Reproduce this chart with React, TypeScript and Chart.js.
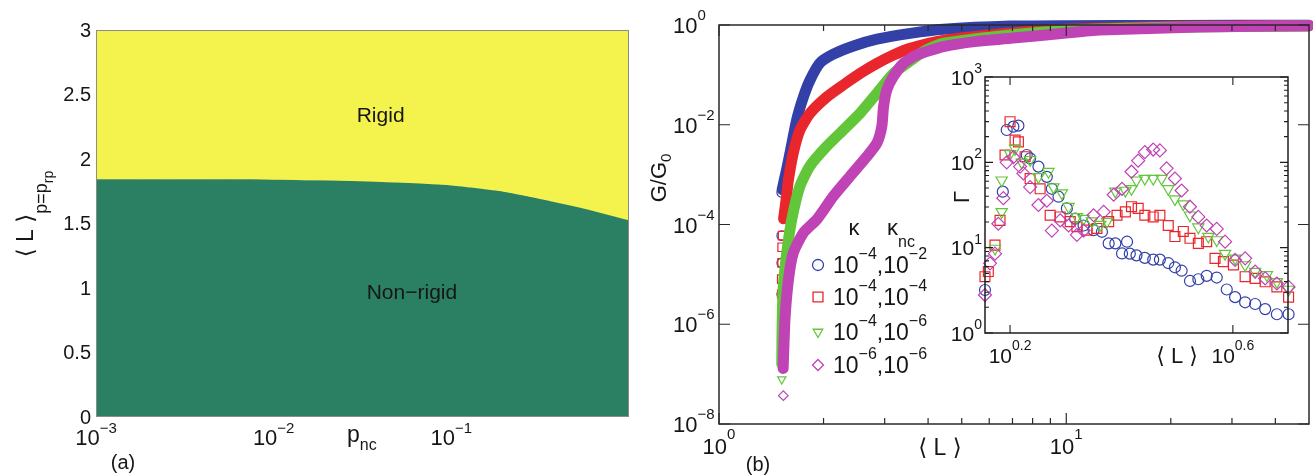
import React, { useEffect, useRef } from "react";
import { Chart, registerables } from "chart.js";

Chart.register(...registerables);

const W = 1313;
const H = 476;
const FONT = '"Liberation Sans", Arial, Helvetica, "DejaVu Sans", sans-serif';

const YELLOW = "#f4f24c";
const DARKGREEN = "#2b8063";
const BLUE = "#3340a8";
const RED = "#e8262b";
const GREEN = "#62c63a";
const MAGENTA = "#c043b6";

// ---------------- Panel (a) data ----------------
const pncValues = [0.001, 0.00316, 0.01, 0.0316, 0.0631, 0.1, 0.178, 0.316, 0.562, 1];
const boundaryL = [1.843, 1.843, 1.84, 1.828, 1.812, 1.795, 1.755, 1.69, 1.615, 1.525];
const aYTicks = [0, 0.5, 1, 1.5, 2, 2.5, 3];
const aYTickLabels = ["0", "0.5", "1", "1.5", "2", "2.5", "3"];
const aXTicks = [0.001, 0.01, 0.1];
const aXTickExp = ["\u22123", "\u22122", "\u22121"];

// ---------------- Panel (b) main data (<L>, G/G0) ----------------
const blueTailL = [1.516, 1.516, 1.516, 1.516];
const blueTailG = [4.0e-6, 1.7e-5, 6.0e-5, 4.4e-4];
const blueBandL = [1.52, 1.567, 1.602, 1.674, 1.75, 1.829, 1.954, 2.135, 2.44, 2.85, 3.55, 4.43, 6.9, 10, 20, 50];
const blueBandG = [5.0e-4, 1.3e-3, 2.75e-3, 1.26e-2, 3.6e-2, 7.9e-2, 0.174, 0.26, 0.38, 0.52, 0.68, 0.82, 0.95, 0.97, 0.98, 0.99];

const redTailL = [1.516, 1.516, 1.52, 1.52, 1.525];
const redTailG = [4.0e-6, 8.0e-6, 1.7e-5, 3.5e-5, 6.0e-5];
const redBandL = [1.535, 1.567, 1.585, 1.637, 1.711, 1.829, 2.043, 2.282, 2.549, 2.85, 3.18, 3.55, 4.43, 6.9, 10, 20, 50];
const redBandG = [1.3e-4, 4.0e-4, 8.0e-4, 2.75e-3, 7.9e-3, 1.7e-2, 3.6e-2, 6.3e-2, 0.107, 0.17, 0.25, 0.34, 0.49, 0.69, 0.82, 0.93, 0.97];

const greenTailL = [1.516];
const greenTailG = [7.9e-8];
const greenBandL = [1.516, 1.52, 1.53, 1.567, 1.62, 1.711, 1.829, 2.043, 2.282, 2.549, 2.85, 3.18, 3.55, 3.968, 4.43, 6.9, 10, 20, 50];
const greenBandG = [1.6e-7, 1.0e-6, 5.0e-6, 2.7e-5, 1.26e-4, 5.9e-4, 1.5e-3, 3.7e-3, 7.9e-3, 1.7e-2, 4.3e-2, 0.107, 0.19, 0.32, 0.43, 0.63, 0.78, 0.9, 0.96];

const magentaTailL = [1.532];
const magentaTailG = [3.7e-8];
const magentaBandL = [1.53, 1.549, 1.585, 1.637, 1.75, 1.912, 2.135, 2.385, 2.665, 2.85, 2.944, 2.977, 3.043, 3.18, 3.398, 3.712, 4.43, 5.53, 6.9, 10, 12.5, 24, 50];
const magentaBandG = [1.3e-7, 1.26e-6, 7.9e-6, 2.7e-5, 6.8e-5, 1.26e-4, 3.7e-4, 9.3e-4, 2.3e-3, 4.3e-3, 9.3e-3, 2.3e-2, 5.0e-2, 9.3e-2, 0.17, 0.25, 0.37, 0.47, 0.54, 0.69, 0.79, 0.91, 0.97];

const mainXMajor = [1, 10];
const mainXMajorExp = ["0", "1"];
const mainXMinor = [2, 3, 4, 5, 6, 7, 8, 9, 20, 30, 40];
const mainYTicks = [1, 1e-2, 1e-4, 1e-6, 1e-8];
const mainYTickExp = ["0", "\u22122", "\u22124", "\u22126", "\u22128"];

const legendLabels = [
  ["\u22124", "\u22122"],
  ["\u22124", "\u22124"],
  ["\u22124", "\u22126"],
  ["\u22126", "\u22126"],
];

// ---------------- Inset data: log10(<L>) and log10(Gamma) ----------------
const insetBlueLogL = [0.155, 0.187, 0.194, 0.206, 0.215, 0.23, 0.236, 0.251, 0.266, 0.275, 0.287, 0.302, 0.317, 0.332, 0.35, 0.365, 0.377, 0.389, 0.401, 0.41, 0.415, 0.427, 0.442, 0.457, 0.469, 0.484, 0.496, 0.508, 0.523, 0.538, 0.553, 0.571, 0.589, 0.604, 0.622, 0.64, 0.658, 0.679, 0.7];
const insetBlueLogG = [0.504, 1.656, 2.379, 2.418, 2.43, 2.086, 2.047, 1.95, 1.83, 1.69, 1.597, 1.46, 1.34, 1.26, 1.205, 1.186, 1.05, 1.05, 0.932, 1.07, 0.93, 0.91, 0.88, 0.86, 0.86, 0.82, 0.77, 0.73, 0.61, 0.63, 0.67, 0.65, 0.51, 0.42, 0.36, 0.34, 0.28, 0.22, 0.22];

const insetRedLogL = [0.155, 0.161, 0.173, 0.182, 0.191, 0.2, 0.209, 0.215, 0.227, 0.236, 0.254, 0.272, 0.29, 0.308, 0.32, 0.338, 0.356, 0.377, 0.392, 0.407, 0.418, 0.43, 0.442, 0.457, 0.469, 0.484, 0.496, 0.511, 0.523, 0.538, 0.553, 0.568, 0.583, 0.601, 0.622, 0.64, 0.658, 0.679, 0.7];
const insetRedLogG = [0.66, 0.72, 1.03, 1.32, 2.086, 2.476, 2.26, 2.24, 2.066, 1.81, 1.69, 1.38, 1.36, 1.305, 1.245, 1.205, 1.225, 1.305, 1.38, 1.42, 1.48, 1.46, 1.38, 1.36, 1.38, 1.26, 1.13, 1.19, 1.11, 1.05, 1.07, 0.875, 0.836, 0.797, 0.66, 0.64, 0.6, 0.54, 0.42];

const insetGreenLogL = [0.173, 0.185, 0.185, 0.2, 0.209, 0.221, 0.236, 0.251, 0.269, 0.278, 0.293, 0.305, 0.32, 0.332, 0.347, 0.362, 0.374, 0.389, 0.407, 0.418, 0.427, 0.442, 0.457, 0.472, 0.484, 0.496, 0.511, 0.523, 0.538, 0.556, 0.571, 0.586, 0.604, 0.622, 0.64, 0.661, 0.679, 0.7];
const insetGreenLogG = [0.99, 1.42, 1.79, 2.1, 2.16, 2.0, 2.03, 1.83, 1.89, 1.71, 1.64, 1.48, 1.36, 1.34, 1.31, 1.27, 1.305, 1.66, 1.67, 1.69, 1.79, 1.81, 1.81, 1.81, 1.69, 1.57, 1.51, 1.38, 1.24, 1.13, 1.09, 0.93, 0.875, 0.797, 0.72, 0.68, 0.6, 0.51];

const insetMagentaLogL = [0.155, 0.164, 0.173, 0.179, 0.188, 0.194, 0.206, 0.218, 0.224, 0.236, 0.251, 0.266, 0.275, 0.29, 0.305, 0.32, 0.332, 0.35, 0.368, 0.386, 0.401, 0.418, 0.43, 0.442, 0.457, 0.469, 0.481, 0.496, 0.508, 0.523, 0.538, 0.553, 0.571, 0.586, 0.604, 0.622, 0.64, 0.658, 0.679, 0.7];
const insetMagentaLogG = [0.445, 0.816, 0.93, 1.28, 1.58, 2.0, 2.06, 1.95, 1.87, 1.71, 1.5, 1.55, 1.2, 1.32, 1.26, 1.15, 1.2, 1.38, 1.42, 1.62, 1.69, 1.89, 2.02, 2.12, 2.15, 2.14, 1.93, 1.81, 1.67, 1.48, 1.36, 1.26, 1.22, 1.07, 0.856, 0.875, 0.72, 0.64, 0.58, 0.54];

const insetXTicks = [1.5849, 3.9811];
const insetXTickExp = ["0.2", "0.6"];
const insetYTicks = [1, 10, 100, 1000];
const insetYTickExp = ["0", "1", "2", "3"];

// ---------------- helpers ----------------
type Part = { t: string; size: number; dy?: number };

function drawRich(ctx: CanvasRenderingContext2D, parts: Part[], x: number, y: number, align: "left" | "center" | "right" = "left") {
  const widths = parts.map((p) => {
    ctx.font = `${p.size}px ${FONT}`;
    return ctx.measureText(p.t).width;
  });
  const total = widths.reduce((s, w) => s + w, 0);
  let cx = align === "center" ? x - total / 2 : align === "right" ? x - total : x;
  ctx.textAlign = "left";
  ctx.textBaseline = "middle";
  parts.forEach((p, i) => {
    ctx.font = `${p.size}px ${FONT}`;
    ctx.fillText(p.t, cx, y + (p.dy ?? 0));
    cx += widths[i];
  });
  return total;
}

function drawRotated(ctx: CanvasRenderingContext2D, parts: Part[], x: number, y: number) {
  ctx.save();
  ctx.translate(x, y);
  ctx.rotate(-Math.PI / 2);
  drawRich(ctx, parts, 0, 0, "center");
  ctx.restore();
}

function marker(ctx: CanvasRenderingContext2D, kind: string, x: number, y: number, r: number, color: string) {
  ctx.save();
  ctx.strokeStyle = color;
  ctx.lineWidth = 1.3;
  ctx.beginPath();
  if (kind === "circle") {
    ctx.arc(x, y, r, 0, Math.PI * 2);
  } else if (kind === "rect") {
    const s = r * Math.SQRT1_2;
    ctx.rect(x - s, y - s, 2 * s, 2 * s);
  } else if (kind === "tri") {
    ctx.moveTo(x, y + r);
    ctx.lineTo(x - r * 0.866, y - r * 0.5);
    ctx.lineTo(x + r * 0.866, y - r * 0.5);
    ctx.closePath();
  } else {
    ctx.moveTo(x, y - r);
    ctx.lineTo(x + r, y);
    ctx.lineTo(x, y + r);
    ctx.lineTo(x - r, y);
    ctx.closePath();
  }
  ctx.stroke();
  ctx.restore();
}

function pairs(xs: number[], ys: number[]) {
  return xs.map((x, i) => ({ x, y: ys[i] }));
}
function logPairs(xs: number[], ys: number[]) {
  return xs.map((x, i) => ({ x: Math.pow(10, x), y: Math.pow(10, ys[i]) }));
}

function baseOptions(padding: any, x: any, y: any, plugins: any[]) {
  return {
    options: {
      responsive: false,
      maintainAspectRatio: false,
      animation: false,
      events: [],
      layout: { padding, autoPadding: false },
      plugins: { legend: { display: false }, tooltip: { enabled: false } },
      scales: {
        x: { ...x, display: false },
        y: { ...y, display: false },
      },
    },
    plugins,
  };
}

// ---------------- Panel (a) ----------------
const panelADecor = {
  id: "panelADecor",
  afterDraw(chart: any) {
    const { ctx, chartArea: a, scales } = chart;
    const xs = scales.x;
    const ys = scales.y;
    ctx.save();
    ctx.strokeStyle = "#8c8c8c";
    ctx.lineWidth = 1;
    ctx.strokeRect(a.left + 0.5, a.top + 0.5, a.right - a.left - 1, a.bottom - a.top - 1);
    ctx.fillStyle = "#161616";
    aYTicks.forEach((v, i) => {
      drawRich(ctx, [{ t: aYTickLabels[i], size: 20 }], a.left - 5, ys.getPixelForValue(v) + 1, "right");
    });
    aXTicks.forEach((v, i) => {
      drawRich(ctx, [{ t: "10", size: 22 }, { t: aXTickExp[i], size: 15, dy: -10 }], xs.getPixelForValue(v), a.bottom + 22, "center");
    });
    drawRich(ctx, [{ t: "p", size: 23 }, { t: "nc", size: 16, dy: 10 }], 347, 436, "left");
    drawRich(ctx, [{ t: "(a)", size: 20 }], 123, 463, "center");
    drawRich(ctx, [{ t: "Rigid", size: 21 }], xs.getPixelForValue(0.04), ys.getPixelForValue(2.33), "center");
    drawRich(ctx, [{ t: "Non\u2212rigid", size: 21 }], xs.getPixelForValue(0.06), ys.getPixelForValue(0.96), "center");
    drawRotated(
      ctx,
      [
        { t: "\u27e8 L \u27e9", size: 23 },
        { t: "p=p", size: 18, dy: 15 },
        { t: "rp", size: 14, dy: 22 },
      ],
      27,
      214
    );
    ctx.restore();
  },
};

function panelAConfig() {
  const boundary = pairs(pncValues, boundaryL);
  return {
    type: "line",
    data: {
      datasets: [
        { data: boundary, fill: "end", backgroundColor: YELLOW, borderWidth: 0, pointRadius: 0, tension: 0.3 },
        { data: boundary, fill: "start", backgroundColor: DARKGREEN, borderColor: DARKGREEN, borderWidth: 1, pointRadius: 0, tension: 0.3 },
      ],
    },
    ...baseOptions(
      { left: 96, top: 30, right: W - 629, bottom: H - 417 },
      { type: "logarithmic", min: 0.001, max: 1 },
      { type: "linear", min: 0, max: 3 },
      [panelADecor]
    ),
  };
}

// ---------------- Panel (b) main ----------------
const mainDecor = {
  id: "mainDecor",
  afterDraw(chart: any) {
    const { ctx, chartArea: a, scales } = chart;
    const xs = scales.x;
    const ys = scales.y;
    ctx.save();
    ctx.strokeStyle = "#2a2a2a";
    ctx.lineWidth = 1.5;
    ctx.strokeRect(a.left, a.top, a.right - a.left, a.bottom - a.top);
    ctx.lineWidth = 1.2;
    ctx.beginPath();
    mainXMajor.forEach((v) => {
      const x = xs.getPixelForValue(v);
      ctx.moveTo(x, a.bottom); ctx.lineTo(x, a.bottom - 11);
      ctx.moveTo(x, a.top); ctx.lineTo(x, a.top + 11);
    });
    mainXMinor.forEach((v) => {
      const x = xs.getPixelForValue(v);
      ctx.moveTo(x, a.bottom); ctx.lineTo(x, a.bottom - 6);
      ctx.moveTo(x, a.top); ctx.lineTo(x, a.top + 6);
    });
    mainYTicks.forEach((v) => {
      const y = ys.getPixelForValue(v);
      ctx.moveTo(a.left, y); ctx.lineTo(a.left + 11, y);
      ctx.moveTo(a.right, y); ctx.lineTo(a.right - 11, y);
    });
    ctx.stroke();

    ctx.fillStyle = "#161616";
    mainYTicks.forEach((v, i) => {
      drawRich(ctx, [{ t: "10", size: 22, dy: 2 }, { t: mainYTickExp[i], size: 15, dy: -9 }], 673, ys.getPixelForValue(v), "left");
    });
    mainXMajor.forEach((v, i) => {
      drawRich(ctx, [{ t: "10", size: 22 }, { t: mainXMajorExp[i], size: 15, dy: -13 }], xs.getPixelForValue(v), 448, "center");
    });
    drawRich(ctx, [{ t: "\u27e8 L \u27e9", size: 23 }], 940, 449, "center");
    drawRich(ctx, [{ t: "(b)", size: 20 }], 758, 465, "center");
    drawRotated(ctx, [{ t: "G/G", size: 22 }, { t: "0", size: 15, dy: 7 }], 660, 178);

    // legend
    drawRich(ctx, [{ t: "\u03ba", size: 22 }], 854, 229, "center");
    drawRich(ctx, [{ t: "\u03ba", size: 22 }, { t: "nc", size: 16, dy: 14 }], 887, 229, "left");
    const kinds = ["circle", "rect", "tri", "diamond"];
    const colors = [BLUE, RED, GREEN, MAGENTA];
    const rowsY = [265, 297, 332, 365];
    rowsY.forEach((ry, i) => {
      marker(ctx, kinds[i], 818, ry, i === 1 ? 7 : 5.5, colors[i]);
      ctx.fillStyle = "#161616";
      drawRich(
        ctx,
        [
          { t: "10", size: 23, dy: 2 },
          { t: legendLabels[i][0], size: 16, dy: -10 },
          { t: ",10", size: 23, dy: 2 },
          { t: legendLabels[i][1], size: 16, dy: -10 },
        ],
        833,
        ry,
        "left"
      );
    });
    ctx.restore();
  },
};

function seriesSets(color: string, style: string, rot: number, tailL: number[], tailG: number[], bandL: number[], bandG: number[]) {
  const r = style === "rect" ? 6 : 4.8;
  const common = {
    pointStyle: style,
    pointRotation: rot,
    pointRadius: r,
    pointBorderColor: color,
    pointBackgroundColor: "rgba(0,0,0,0)",
    pointBorderWidth: 1.2,
    clip: false,
  };
  return [
    {
      ...common,
      data: pairs(bandL, bandG),
      showLine: true,
      pointRadius: 0,
      borderColor: color,
      borderWidth: 11,
      tension: 0.2,
      borderCapStyle: "round",
      borderJoinStyle: "round",
    },
    { ...common, data: pairs(tailL, tailG), showLine: false },
  ];
}

function mainConfig() {
  return {
    type: "scatter",
    data: {
      datasets: [
        ...seriesSets(MAGENTA, "rectRot", 0, magentaTailL, magentaTailG, magentaBandL, magentaBandG),
        ...seriesSets(GREEN, "triangle", 180, greenTailL, greenTailG, greenBandL, greenBandG),
        ...seriesSets(RED, "rect", 0, redTailL, redTailG, redBandL, redBandG),
        ...seriesSets(BLUE, "circle", 0, blueTailL, blueTailG, blueBandL, blueBandG),
      ],
    },
    ...baseOptions(
      { left: 719, top: 25, right: W - 1309, bottom: H - 424 },
      { type: "logarithmic", min: 1, max: 50 },
      { type: "logarithmic", min: 1e-8, max: 1 },
      [mainDecor]
    ),
  };
}

// ---------------- Inset ----------------
const insetDecor = {
  id: "insetDecor",
  beforeDraw(chart: any) {
    const { ctx, chartArea: a } = chart;
    ctx.save();
    ctx.fillStyle = "#ffffff";
    ctx.fillRect(a.left, a.top, a.right - a.left, a.bottom - a.top);
    ctx.restore();
  },
  afterDraw(chart: any) {
    const { ctx, chartArea: a, scales } = chart;
    const xs = scales.x;
    const ys = scales.y;
    ctx.save();
    ctx.strokeStyle = "#1e1e1e";
    ctx.lineWidth = 1.5;
    ctx.strokeRect(a.left, a.top, a.right - a.left, a.bottom - a.top);
    ctx.lineWidth = 1.1;
    ctx.beginPath();
    insetXTicks.forEach((v) => {
      const x = xs.getPixelForValue(v);
      ctx.moveTo(x, a.bottom); ctx.lineTo(x, a.bottom - 8);
      ctx.moveTo(x, a.top); ctx.lineTo(x, a.top + 8);
    });
    insetYTicks.forEach((v, i) => {
      const y = ys.getPixelForValue(v);
      ctx.moveTo(a.left, y); ctx.lineTo(a.left + 8, y);
      ctx.moveTo(a.right, y); ctx.lineTo(a.right - 8, y);
      if (i < insetYTicks.length - 1) {
        for (let m = 2; m <= 9; m++) {
          const ym = ys.getPixelForValue(v * m);
          ctx.moveTo(a.left, ym); ctx.lineTo(a.left + 4, ym);
          ctx.moveTo(a.right, ym); ctx.lineTo(a.right - 4, ym);
        }
      }
    });
    ctx.stroke();

    ctx.fillStyle = "#161616";
    insetYTicks.forEach((v, i) => {
      drawRich(ctx, [{ t: "10", size: 21, dy: 2 }, { t: insetYTickExp[i], size: 14, dy: -8 }], a.left - 3, ys.getPixelForValue(v), "right");
    });
    insetXTicks.forEach((v, i) => {
      drawRich(ctx, [{ t: "10", size: 21 }, { t: insetXTickExp[i], size: 14, dy: -11 }], xs.getPixelForValue(v), 357, "center");
    });
    drawRich(ctx, [{ t: "\u27e8 L \u27e9", size: 22 }], 1177, 357, "center");
    drawRotated(ctx, [{ t: "\u0393", size: 22 }], 963, 197);
    ctx.restore();
  },
};

function insetSet(color: string, style: string, rot: number, r: number, lx: number[], ly: number[]) {
  return {
    data: logPairs(lx, ly),
    showLine: false,
    pointStyle: style,
    pointRotation: rot,
    pointRadius: r,
    pointBorderColor: color,
    pointBackgroundColor: "rgba(0,0,0,0)",
    pointBorderWidth: 1.2,
    clip: false,
  };
}

function insetConfig() {
  return {
    type: "scatter",
    data: {
      datasets: [
        insetSet(MAGENTA, "rectRot", 0, 6.5, insetMagentaLogL, insetMagentaLogG),
        insetSet(GREEN, "triangle", 180, 6.5, insetGreenLogL, insetGreenLogG),
        insetSet(RED, "rect", 0, 7, insetRedLogL, insetRedLogG),
        insetSet(BLUE, "circle", 0, 5.5, insetBlueLogL, insetBlueLogG),
      ],
    },
    ...baseOptions(
      { left: 985, top: 77, right: W - 1288, bottom: H - 333 },
      { type: "logarithmic", min: 1.429, max: 5.0 },
      { type: "logarithmic", min: 1, max: 1000 },
      [insetDecor]
    ),
  };
}

// ---------------- components ----------------
function ChartLayer({ make }: { make: () => any }) {
  const ref = useRef<HTMLCanvasElement>(null);
  useEffect(() => {
    if (!ref.current) return;
    const chart = new Chart(ref.current, make());
    return () => chart.destroy();
  }, [make]);
  return (
    <canvas
      ref={ref}
      width={W}
      height={H}
      style={{ position: "absolute", left: 0, top: 0, width: W, height: H }}
    />
  );
}

export default function App() {
  return (
    <div style={{ position: "absolute", left: 0, top: 0, width: W, height: H, background: "#ffffff", overflow: "hidden" }}>
      <ChartLayer make={panelAConfig} />
      <ChartLayer make={mainConfig} />
      <ChartLayer make={insetConfig} />
    </div>
  );
}
